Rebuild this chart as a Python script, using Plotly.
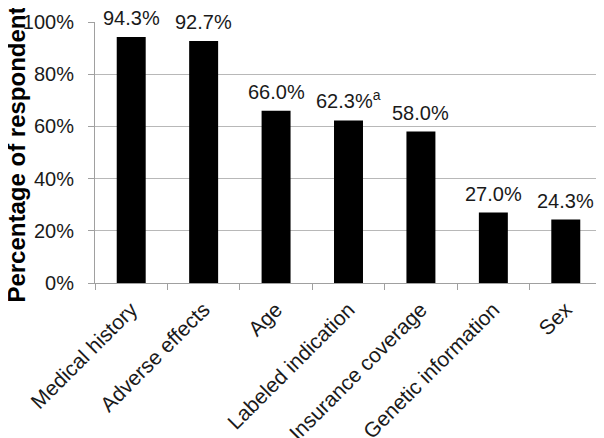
import plotly.graph_objects as go

categories = ["Medical history", "Adverse effects", "Age", "Labeled indication",
              "Insurance coverage", "Genetic information", "Sex"]
values = [94.3, 92.7, 66.0, 62.3, 58.0, 27.0, 24.3]
labels = ["94.3%", "92.7%", "66.0%", "62.3%<sup>a</sup>", "58.0%", "27.0%", "24.3%"]
y_ticks = [0, 20, 40, 60, 80, 100]
y_tick_text = ["0%", "20%", "40%", "60%", "80%", "100%"]
y_title = "<b>Percentage of respondents</b>"

FONT = "Liberation Sans, Arial"

fig = go.Figure(go.Bar(
    x=categories, y=values,
    marker=dict(color="black", line=dict(width=0)),
    width=0.4,
))

for c, v, t in zip(categories, values, labels):
    fig.add_annotation(x=c, y=v, text=t, showarrow=False, yanchor="bottom",
                       yshift=6, font=dict(family=FONT, size=20, color="#1a1a1a"))

# y-axis title as a rotated annotation so it can sit at the far left like the reference
fig.add_annotation(xref="paper", yref="paper", x=0, y=0.515, text=y_title,
                   textangle=-90, showarrow=False, xanchor="center", yanchor="middle",
                   xshift=-78, font=dict(family=FONT, size=24, color="black"))

# page body has an 8px margin; compensate so the plot lands where the reference has it
fig.update_layout(
    width=596, height=430,
    margin=dict(l=87, r=2, t=14, b=155, autoexpand=False),
    paper_bgcolor="white", plot_bgcolor="white",
    font=dict(family=FONT, size=20, color="#1a1a1a"),
    showlegend=False,
)
fig.update_yaxes(
    range=[0, 100], tickvals=y_ticks, ticktext=y_tick_text,
    showgrid=True, gridcolor="#b8b8b8", gridwidth=1,
    showline=True, linecolor="#a0a0a0", linewidth=1,
    ticks="outside", ticklen=6, tickcolor="#a0a0a0",
    tickfont=dict(size=20), ticklabelstandoff=10,
    zeroline=False, automargin=False,
)
fig.update_xaxes(
    tickangle=-45, showline=True, linecolor="#a0a0a0", linewidth=1,
    ticks="outside", ticklen=6, tickcolor="#a0a0a0", tickson="boundaries",
    tickfont=dict(size=21), automargin=False, ticklabelstandoff=5,
)

fig.write_html("out.html")
